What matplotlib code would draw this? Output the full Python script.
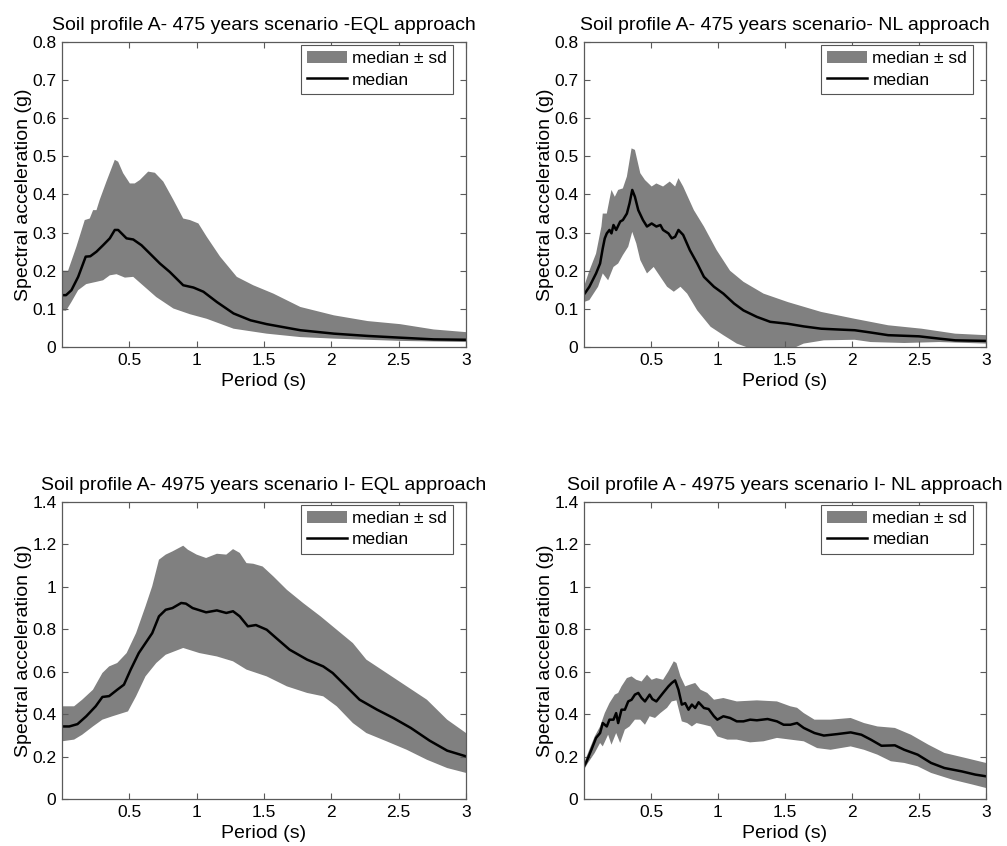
import matplotlib
matplotlib.use("Agg")
import matplotlib.pyplot as plt
from matplotlib.ticker import FuncFormatter

plt.rcParams['font.family'] = ['Liberation Sans', 'DejaVu Sans']

# ---------------- Panel 1: 475 years EQL ----------------
p1_med_x = [0.0, 0.03, 0.07, 0.12, 0.176, 0.21, 0.256, 0.305, 0.355, 0.392, 0.417, 0.479, 0.529, 0.59, 0.653,
            0.727, 0.80, 0.90, 0.976, 1.05, 1.15, 1.274, 1.40, 1.52, 1.77, 2.02, 2.27, 2.51, 2.76, 3.0]
p1_med_y = [0.136, 0.136, 0.149, 0.184, 0.237, 0.238, 0.25, 0.267, 0.285, 0.307, 0.307, 0.285, 0.282, 0.267, 0.245,
            0.219, 0.197, 0.162, 0.156, 0.145, 0.118, 0.088, 0.070, 0.060, 0.044, 0.035, 0.029, 0.0245, 0.020, 0.019]
p1_up_x = [0.0, 0.045, 0.107, 0.169, 0.206, 0.231, 0.256, 0.28, 0.33, 0.392, 0.417, 0.454, 0.504, 0.54, 0.578, 0.64,
           0.69, 0.752, 0.827, 0.90, 0.95, 1.013, 1.075, 1.174, 1.298, 1.42, 1.57, 1.77, 2.02, 2.27, 2.51, 2.76, 3.0]
p1_up_y = [0.20, 0.20, 0.263, 0.333, 0.337, 0.359, 0.359, 0.386, 0.434, 0.491, 0.486, 0.456, 0.429, 0.429, 0.438, 0.46,
           0.457, 0.434, 0.386, 0.337, 0.333, 0.324, 0.289, 0.237, 0.184, 0.162, 0.140, 0.105, 0.083, 0.068, 0.060, 0.046, 0.039]
p1_lo_x = [0.0, 0.03, 0.07, 0.12, 0.18, 0.256, 0.305, 0.355, 0.405, 0.467, 0.529, 0.60, 0.70, 0.827, 0.95, 1.075,
           1.274, 1.52, 1.77, 2.02, 2.51, 3.0]
p1_lo_y = [0.096, 0.095, 0.118, 0.149, 0.165, 0.171, 0.175, 0.188, 0.191, 0.182, 0.184, 0.162, 0.131, 0.101, 0.086, 0.074,
           0.048, 0.035, 0.026, 0.022, 0.016, 0.013]

# ---------------- Panel 2: 475 years NL ----------------
p2_med_x = [0.0, 0.005, 0.04, 0.09, 0.12, 0.14, 0.155, 0.17, 0.19, 0.205, 0.22, 0.24, 0.27, 0.29, 0.32, 0.34, 0.36,
            0.38, 0.405, 0.44, 0.47, 0.505, 0.54, 0.57, 0.59, 0.63, 0.655, 0.68, 0.705, 0.74, 0.79, 0.845, 0.895,
            0.97, 1.04, 1.12, 1.19, 1.29, 1.39, 1.52, 1.64, 1.77, 1.89, 2.02, 2.14, 2.27, 2.50, 2.65, 2.77, 3.0]
p2_med_y = [0.14, 0.14, 0.158, 0.193, 0.219, 0.259, 0.285, 0.298, 0.307, 0.298, 0.32, 0.307, 0.329, 0.333, 0.35, 0.377,
            0.412, 0.394, 0.359, 0.333, 0.316, 0.324, 0.316, 0.32, 0.307, 0.298, 0.285, 0.289, 0.307, 0.294, 0.254,
            0.219, 0.184, 0.158, 0.14, 0.114, 0.096, 0.079, 0.066, 0.061, 0.054, 0.048, 0.046, 0.044, 0.038, 0.031,
            0.028, 0.022, 0.0175, 0.016]
p2_up_x = [0.0, 0.04, 0.09, 0.13, 0.14, 0.17, 0.19, 0.205, 0.23, 0.255, 0.29, 0.32, 0.355, 0.38, 0.42, 0.455, 0.505,
           0.54, 0.59, 0.64, 0.68, 0.705, 0.74, 0.82, 0.895, 0.99, 1.09, 1.19, 1.34, 1.52, 1.77, 2.02, 2.27, 2.52,
           2.77, 3.0]
p2_up_y = [0.158, 0.20, 0.245, 0.316, 0.35, 0.35, 0.386, 0.412, 0.394, 0.412, 0.416, 0.447, 0.521, 0.517, 0.456, 0.438,
           0.421, 0.429, 0.421, 0.434, 0.421, 0.443, 0.421, 0.359, 0.316, 0.254, 0.20, 0.171, 0.14, 0.118, 0.092,
           0.074, 0.057, 0.048, 0.035, 0.031]
p2_lo_x = [0.0, 0.04, 0.105, 0.14, 0.18, 0.22, 0.255, 0.29, 0.33, 0.36, 0.39, 0.42, 0.47, 0.52, 0.57, 0.62, 0.67, 0.72,
           0.77, 0.845, 0.945, 1.04, 1.14, 1.29, 1.52, 1.64, 1.79, 2.02, 2.14, 2.39, 2.65, 3.0]
p2_lo_y = [0.118, 0.123, 0.158, 0.193, 0.175, 0.21, 0.219, 0.241, 0.263, 0.302, 0.272, 0.228, 0.193, 0.21, 0.184, 0.158,
           0.145, 0.158, 0.14, 0.096, 0.053, 0.031, 0.009, -0.01, -0.01, 0.009, 0.0175, 0.019, 0.013, 0.0105, 0.013,
           0.009]

# ---------------- Panel 3: 4975 years EQL ----------------
p3_med_x = [0.0, 0.054, 0.115, 0.18, 0.25, 0.30, 0.35, 0.41, 0.46, 0.51, 0.57, 0.62, 0.67, 0.72, 0.77, 0.82, 0.885,
            0.92, 0.97, 1.07, 1.15, 1.22, 1.27, 1.32, 1.38, 1.44, 1.52, 1.59, 1.69, 1.82, 1.94, 2.01, 2.11, 2.21, 2.34,
            2.46, 2.59, 2.73, 2.86, 3.0]
p3_med_y = [0.342, 0.342, 0.353, 0.39, 0.437, 0.481, 0.485, 0.515, 0.539, 0.61, 0.688, 0.735, 0.782, 0.861, 0.892, 0.90,
            0.924, 0.921, 0.90, 0.88, 0.889, 0.877, 0.885, 0.861, 0.814, 0.82, 0.798, 0.759, 0.704, 0.657, 0.625,
            0.594, 0.531, 0.468, 0.421, 0.382, 0.335, 0.275, 0.228, 0.201]
p3_up_x = [0.0, 0.09, 0.15, 0.23, 0.30, 0.35, 0.41, 0.48, 0.55, 0.62, 0.67, 0.72, 0.77, 0.82, 0.90, 0.935, 1.0, 1.07,
           1.15, 1.22, 1.27, 1.32, 1.37, 1.42, 1.49, 1.57, 1.67, 1.79, 1.92, 2.04, 2.16, 2.26, 2.41, 2.56, 2.71, 2.86,
           3.0]
p3_up_y = [0.437, 0.437, 0.468, 0.515, 0.594, 0.625, 0.641, 0.688, 0.782, 0.908, 1.003, 1.128, 1.152, 1.167, 1.194,
           1.175, 1.152, 1.136, 1.156, 1.152, 1.178, 1.16, 1.112, 1.109, 1.096, 1.049, 0.986, 0.924, 0.861, 0.798,
           0.735, 0.657, 0.594, 0.531, 0.468, 0.374, 0.311]
p3_lo_x = [0.0, 0.09, 0.15, 0.23, 0.30, 0.375, 0.45, 0.49, 0.55, 0.62, 0.70, 0.77, 0.90, 1.02, 1.15, 1.27, 1.37, 1.52,
           1.67, 1.82, 1.94, 2.04, 2.16, 2.26, 2.41, 2.56, 2.71, 2.86, 3.0]
p3_lo_y = [0.272, 0.28, 0.303, 0.342, 0.374, 0.39, 0.405, 0.413, 0.484, 0.578, 0.641, 0.68, 0.712, 0.688, 0.672, 0.649,
           0.61, 0.578, 0.531, 0.50, 0.484, 0.437, 0.358, 0.311, 0.272, 0.232, 0.185, 0.146, 0.123]

# ---------------- Panel 4: 4975 years NL ----------------
p4_med_x = [0.0, 0.02, 0.055, 0.09, 0.12, 0.14, 0.17, 0.19, 0.22, 0.24, 0.255, 0.28, 0.305, 0.33, 0.355, 0.38, 0.405,
            0.43, 0.455, 0.49, 0.51, 0.54, 0.57, 0.59, 0.63, 0.655, 0.68, 0.705, 0.73, 0.755, 0.78, 0.805, 0.83,
            0.855, 0.895, 0.93, 0.97, 0.995, 1.04, 1.09, 1.14, 1.19, 1.24, 1.29, 1.37, 1.44, 1.49, 1.54, 1.59, 1.64,
            1.72, 1.79, 1.89, 1.99, 2.07, 2.14, 2.22, 2.32, 2.39, 2.49, 2.59, 2.69, 2.82, 2.92, 3.0]
p4_med_y = [0.154, 0.178, 0.232, 0.288, 0.311, 0.358, 0.342, 0.374, 0.374, 0.405, 0.358, 0.421, 0.421, 0.46, 0.468,
            0.492, 0.50, 0.476, 0.46, 0.492, 0.471, 0.46, 0.484, 0.50, 0.531, 0.547, 0.559, 0.515, 0.445, 0.452,
            0.421, 0.445, 0.429, 0.456, 0.429, 0.424, 0.39, 0.374, 0.39, 0.382, 0.366, 0.366, 0.374, 0.371, 0.377,
            0.366, 0.35, 0.35, 0.358, 0.335, 0.311, 0.299, 0.306, 0.314, 0.303, 0.28, 0.251, 0.253, 0.232, 0.209,
            0.17, 0.146, 0.13, 0.115, 0.107]
p4_up_x = [0.0, 0.03, 0.08, 0.12, 0.155, 0.19, 0.23, 0.255, 0.28, 0.32, 0.355, 0.39, 0.43, 0.47, 0.505, 0.54, 0.59,
           0.63, 0.67, 0.69, 0.72, 0.755, 0.79, 0.83, 0.87, 0.92, 0.97, 1.04, 1.14, 1.29, 1.44, 1.54, 1.59, 1.64,
           1.72, 1.84, 1.99, 2.09, 2.19, 2.32, 2.44, 2.57, 2.69, 2.85, 3.0]
p4_up_y = [0.17, 0.217, 0.295, 0.342, 0.405, 0.452, 0.492, 0.50, 0.531, 0.57, 0.578, 0.562, 0.554, 0.586, 0.562, 0.57,
           0.562, 0.602, 0.649, 0.641, 0.578, 0.531, 0.539, 0.547, 0.515, 0.50, 0.468, 0.476, 0.46, 0.465, 0.46,
           0.437, 0.43, 0.405, 0.374, 0.374, 0.382, 0.358, 0.342, 0.335, 0.303, 0.256, 0.217, 0.193, 0.17]
p4_lo_x = [0.0, 0.03, 0.08, 0.12, 0.14, 0.18, 0.205, 0.24, 0.27, 0.305, 0.34, 0.38, 0.42, 0.455, 0.49, 0.53, 0.57,
           0.62, 0.655, 0.69, 0.73, 0.77, 0.805, 0.84, 0.895, 0.945, 0.995, 1.07, 1.14, 1.24, 1.34, 1.44, 1.54, 1.64,
           1.74, 1.84, 1.99, 2.09, 2.19, 2.29, 2.39, 2.49, 2.59, 2.75, 2.9, 3.0]
p4_lo_y = [0.138, 0.17, 0.217, 0.264, 0.248, 0.303, 0.256, 0.311, 0.264, 0.327, 0.342, 0.374, 0.374, 0.35, 0.39, 0.382,
           0.405, 0.43, 0.46, 0.465, 0.366, 0.358, 0.342, 0.358, 0.35, 0.342, 0.295, 0.28, 0.28, 0.267, 0.272, 0.288,
           0.28, 0.272, 0.24, 0.232, 0.248, 0.232, 0.209, 0.178, 0.17, 0.154, 0.123, 0.091, 0.068, 0.052]

titles = ["Soil profile A- 475 years scenario -EQL approach",
          "Soil profile A- 475 years scenario- NL approach",
          "Soil profile A- 4975 years scenario I- EQL approach",
          "Soil profile A - 4975 years scenario I- NL approach"]
xticks = [0.5, 1, 1.5, 2, 2.5, 3]
yticks_top = [0, 0.1, 0.2, 0.3, 0.4, 0.5, 0.6, 0.7, 0.8]
yticks_bot = [0, 0.2, 0.4, 0.6, 0.8, 1.0, 1.2, 1.4]

panels = [
    (p1_med_x, p1_med_y, p1_up_x, p1_up_y, p1_lo_x, p1_lo_y, yticks_top),
    (p2_med_x, p2_med_y, p2_up_x, p2_up_y, p2_lo_x, p2_lo_y, yticks_top),
    (p3_med_x, p3_med_y, p3_up_x, p3_up_y, p3_lo_x, p3_lo_y, yticks_bot),
    (p4_med_x, p4_med_y, p4_up_x, p4_up_y, p4_lo_x, p4_lo_y, yticks_bot),
]

W, H = 1007, 846
fig = plt.figure(figsize=(W / 100, H / 100), dpi=100)
boxes = [(62, 42, 466, 347), (584, 42, 986, 347), (62, 502, 466, 799), (584, 502, 986, 799)]

band_color = '#808080'
spine_color = '#5a5a5a'
fmt = FuncFormatter(lambda v, p: ('%g' % round(v, 3)))

for i, (box, pdat) in enumerate(zip(boxes, panels)):
    l, t, r, b = box
    ax = fig.add_axes([l / W, 1 - b / H, (r - l) / W, (b - t) / H])
    mx, my, ux, uy, lx, ly, yt = pdat
    px = list(ux) + list(lx[::-1])
    py = list(uy) + list(ly[::-1])
    ax.fill(px, py, color=band_color, lw=0, label='median ± sd')
    ax.plot(mx, my, color='black', lw=1.8, label='median')
    ax.set_xlim(0, 3)
    ax.set_ylim(yt[0], yt[-1])
    ax.set_xticks(xticks)
    ax.set_yticks(yt)
    ax.xaxis.set_major_formatter(fmt)
    ax.yaxis.set_major_formatter(fmt)
    ax.tick_params(direction='in', length=4, width=0.8, top=True, right=True,
                   labelsize=12.5, colors=spine_color, labelcolor='black', pad=4)
    for s in ax.spines.values():
        s.set_color(spine_color)
        s.set_linewidth(0.9)
    ax.set_xlabel('Period (s)', fontsize=14, labelpad=4)
    ax.set_ylabel('Spectral acceleration (g)', fontsize=14, labelpad=0)
    ax.set_title(titles[i], fontsize=14, pad=9)
    leg = ax.legend(loc='upper right', bbox_to_anchor=(0.968, 0.99), fontsize=12.5, frameon=True,
                    fancybox=False, framealpha=1, edgecolor='#555555', borderpad=0.35,
                    labelspacing=0.35, handlelength=2.3, handletextpad=0.3, borderaxespad=0.0)
    leg.get_frame().set_linewidth(0.8)

fig.savefig('out.png', dpi=100)
